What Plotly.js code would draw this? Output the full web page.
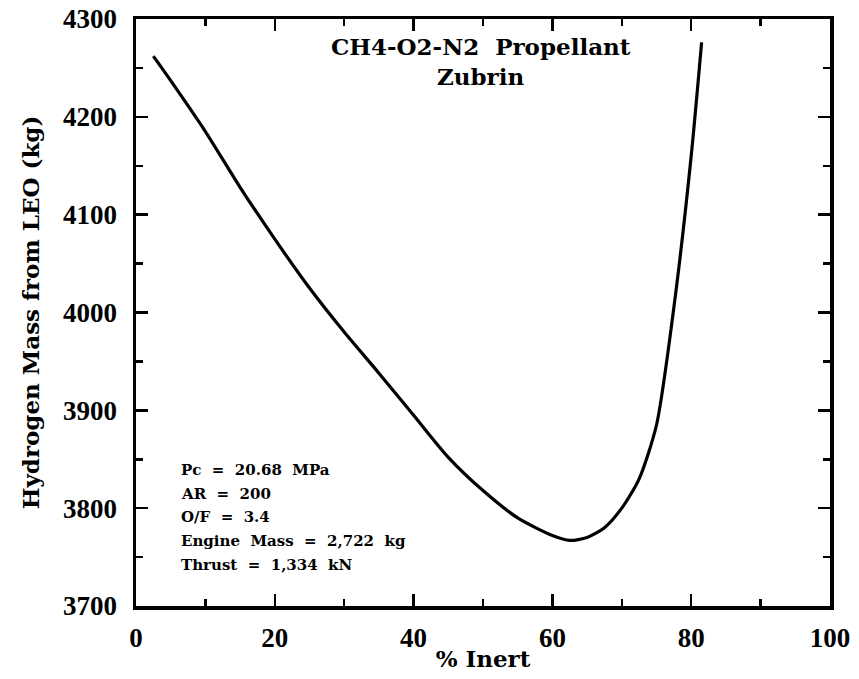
<!DOCTYPE html>
<html>
<head>
<meta charset="utf-8">
<script src="https://cdn.plot.ly/plotly-3.0.1.min.js"></script>
<style>html,body{margin:0;padding:0;background:#fff;}#chart{width:859px;height:679px;}</style>
</head>
<body>
<div id="chart"></div>
<script>
// Data
const inertPct = [2.5, 5, 10, 15, 20, 25, 30, 35, 40, 45, 50, 55, 60, 62.5, 65, 67.5, 70, 72.5, 75, 77.5, 80, 81.5];
const hydrogenMass = [4262, 4237, 4185, 4128, 4075, 4025, 3980, 3938, 3895, 3852, 3818, 3790, 3772, 3767, 3770, 3780, 3800, 3830, 3885, 4005, 4160, 4276];
const xTickVals = [0, 20, 40, 60, 80, 100];
const yTickVals = [3700, 3800, 3900, 4000, 4100, 4200, 4300];
const titleLines = ["CH4-O2-N2  Propellant", "Zubrin"];
const infoLines = ["Pc  =  20.68  MPa", "AR  =  200", "O/F  =  3.4", "Engine  Mass  =  2,722  kg", "Thrust  =  1,334  kN"];

const tickFont = "Liberation Serif, Times New Roman, serif";
const textFont = "DejaVu Serif, serif";

const annotations = [];
titleLines.forEach((t, i) => {
  annotations.push({
    text: '<b>' + t + '</b>', xref: 'paper', yref: 'paper',
    x: 0.497, y: 0.953 - i * 0.051, xanchor: 'center', yanchor: 'middle',
    showarrow: false, font: {family: textFont, size: 23, color: '#000'}
  });
});
infoLines.forEach((t, i) => {
  annotations.push({
    text: '<b>' + t + '</b>', xref: 'paper', yref: 'paper',
    x: 0.062, y: 0.232 - i * 0.0405, xanchor: 'left', yanchor: 'middle',
    showarrow: false, font: {family: textFont, size: 15, color: '#000'}
  });
});

const trace = {
  x: inertPct, y: hydrogenMass, type: 'scatter', mode: 'lines',
  line: {color: '#000', width: 3.2, shape: 'spline', smoothing: 0.7},
  hoverinfo: 'skip'
};

const layout = {
  width: 859, height: 679,
  margin: {l: 136, r: 29, t: 19, b: 73},
  paper_bgcolor: '#fff', plot_bgcolor: '#fff',
  showlegend: false,
  font: {family: tickFont, color: '#000'},
  xaxis: {
    range: [0, 100], tickvals: xTickVals, ticktext: xTickVals.map(v => '<b>' + v + '</b>'),
    ticks: 'inside', ticklen: 12, tickwidth: 2.5, tickcolor: '#000',
    minor: {dtick: 10, ticks: 'inside', ticklen: 7, tickwidth: 2.5, tickcolor: '#000'},
    showline: true, linewidth: 3.5, linecolor: '#000', mirror: 'ticks',
    showgrid: false, zeroline: false,
    tickfont: {family: tickFont, size: 27, color: '#000'},
    ticklabelstandoff: 5,
    title: {text: '<b>% Inert</b>', font: {family: textFont, size: 23, color: '#000'}, standoff: 0}
  },
  yaxis: {
    range: [3700, 4300], tickvals: yTickVals, ticktext: yTickVals.map(v => '<b>' + v + '</b>'),
    ticks: 'inside', ticklen: 12, tickwidth: 2.5, tickcolor: '#000',
    minor: {dtick: 50, ticks: 'inside', ticklen: 7, tickwidth: 2.5, tickcolor: '#000'},
    showline: true, linewidth: 3.5, linecolor: '#000', mirror: 'ticks',
    showgrid: false, zeroline: false,
    tickfont: {family: tickFont, size: 27, color: '#000'},
    ticklabelstandoff: 10,
    title: {text: '<b>Hydrogen Mass from LEO (kg)</b>', font: {family: textFont, size: 23, color: '#000'}, standoff: 18}
  },
  annotations: annotations
};

Plotly.newPlot('chart', [trace], layout, {displayModeBar: false, staticPlot: true});
</script>
</body>
</html>
